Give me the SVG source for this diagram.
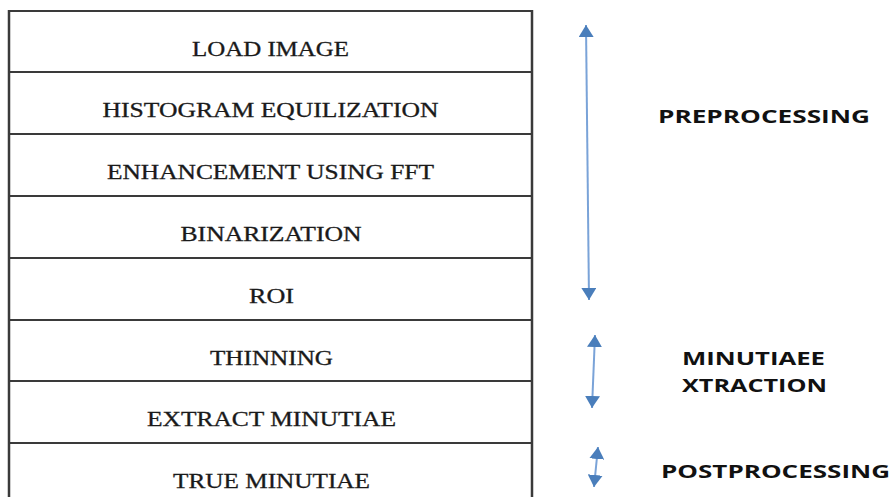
<svg xmlns="http://www.w3.org/2000/svg" width="894" height="497" viewBox="0 0 894 497">
<style>
.cell{fill:#ffffff;stroke:#3a3a3a;stroke-width:2}
.edge{stroke:#3a3a3a;stroke-width:2.5;fill:none}
.t{font-family:"Liberation Serif","Times New Roman",serif;font-size:20px;fill:#1a1a1a;stroke:#1a1a1a;stroke-width:0.3;text-anchor:middle}
.lbl{font-family:"Open Sans","Liberation Sans",sans-serif;font-weight:bold;font-size:17.5px;fill:#111}
.arr{stroke:#7aa3d8;stroke-width:2;fill:none;marker-start:url(#ah);marker-end:url(#ah)}
</style>
<defs>
<marker id="ah" markerUnits="userSpaceOnUse" markerWidth="12" markerHeight="15" refX="12" refY="7.5" orient="auto-start-reverse" viewBox="0 0 12 15">
<path d="M0,0 L12,7.5 L0,15 Z" fill="#4a7ebb"/>
</marker>
</defs>
<rect width="894" height="497" fill="#ffffff"/>
<g id="row-load-image"><rect class="cell" x="9" y="11" width="523" height="61"/><text class="t" x="270.5" y="56" textLength="157" lengthAdjust="spacingAndGlyphs">LOAD IMAGE</text></g>
<g id="row-histogram"><rect class="cell" x="9" y="72" width="523" height="62"/><text class="t" x="270.5" y="117" textLength="336" lengthAdjust="spacingAndGlyphs">HISTOGRAM EQUILIZATION</text></g>
<g id="row-enhancement"><rect class="cell" x="9" y="134" width="523" height="62"/><text class="t" x="270.5" y="179" textLength="327" lengthAdjust="spacingAndGlyphs">ENHANCEMENT USING FFT</text></g>
<g id="row-binarization"><rect class="cell" x="9" y="196" width="523" height="62"/><text class="t" x="271" y="241" textLength="181" lengthAdjust="spacingAndGlyphs">BINARIZATION</text></g>
<g id="row-roi"><rect class="cell" x="9" y="258" width="523" height="62"/><text class="t" x="271.5" y="303" textLength="45" lengthAdjust="spacingAndGlyphs">ROI</text></g>
<g id="row-thinning"><rect class="cell" x="9" y="320" width="523" height="61"/><text class="t" x="271.5" y="365" textLength="123" lengthAdjust="spacingAndGlyphs">THINNING</text></g>
<g id="row-extract"><rect class="cell" x="9" y="381" width="523" height="62"/><text class="t" x="271.5" y="426" textLength="249" lengthAdjust="spacingAndGlyphs">EXTRACT MINUTIAE</text></g>
<g id="row-true"><rect class="cell" x="9" y="443" width="523" height="60"/><text class="t" x="271.5" y="488" textLength="197" lengthAdjust="spacingAndGlyphs">TRUE MINUTIAE</text></g>
<path class="edge" d="M9,10 V497 M532,10 V497"/>
<g id="connectors">
<line class="arr" x1="586" y1="25" x2="589" y2="300"/>
<line class="arr" x1="595" y1="335" x2="592" y2="408"/>
<line class="arr" x1="598" y1="447" x2="594" y2="487"/>
</g>
<g id="label-preprocessing"><text class="lbl" x="658" y="123" textLength="212" lengthAdjust="spacingAndGlyphs">PREPROCESSING</text></g>
<g id="label-minutiae"><text class="lbl" x="682" y="365" textLength="143" lengthAdjust="spacingAndGlyphs">MINUTIAEE</text><text class="lbl" x="682" y="392" textLength="145" lengthAdjust="spacingAndGlyphs">XTRACTION</text></g>
<g id="label-postprocessing"><text class="lbl" x="661" y="478" textLength="229" lengthAdjust="spacingAndGlyphs">POSTPROCESSING</text></g>
</svg>
